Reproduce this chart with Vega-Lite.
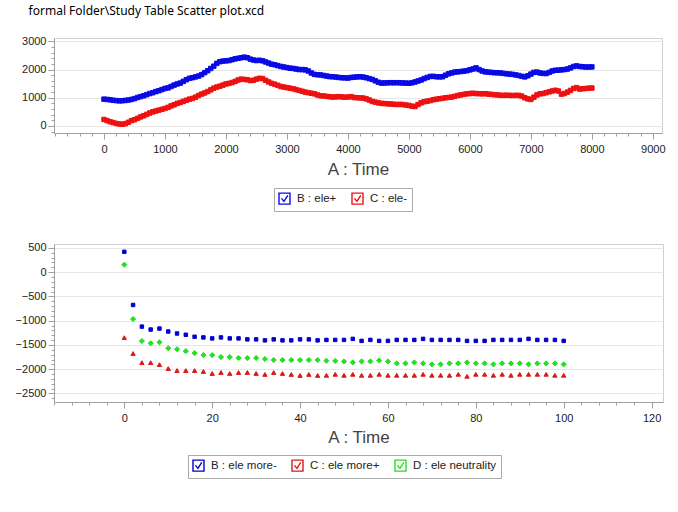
{
  "$schema": "https://vega.github.io/schema/vega-lite/v6.json",
  "background": "white",
  "padding": {"left": 14, "top": 4, "right": 8, "bottom": 4},
  "title": {
    "text": "formal Folder\\Study Table Scatter plot.xcd",
    "anchor": "start",
    "frame": "bounds",
    "dx": 14,
    "font": "Noto Sans",
    "fontSize": 12,
    "fontWeight": "normal",
    "color": "#000000",
    "offset": 17
  },
  "config": {
    "font": "Liberation Sans",
    "view": {"stroke": "#d0d0d0"},
    "axis": {
      "labelFont": "Liberation Sans",
      "labelFontSize": 11,
      "labelColor": "#222222",
      "domainColor": "#a0a0a0",
      "tickColor": "#a0a0a0",
      "titleFont": "Liberation Sans",
      "titleFontSize": 17,
      "titleFontWeight": "normal",
      "titleColor": "#444444",
      "labelOverlap": false,
      "format": "d"
    },
    "legend": {
      "symbolType": "M-1,-1H1V1H-1Z M-0.55,-0.05L-0.1,0.5L0.6,-0.6",
      "symbolSize": 121,
      "symbolStrokeWidth": 1.4,
      "labelFont": "Liberation Sans",
      "labelFontSize": 11.5,
      "labelColor": "#222222",
      "labelOffset": 6,
      "columnPadding": 12,
      "padding": 4,
      "strokeColor": "#a9a9a9",
      "fillColor": "white"
    }
  },
  "datasets": {
    "top": [
      {"A":0,"B":950,"C":230},{"A":50,"B":940,"C":190},{"A":100,"B":930,"C":150},{"A":150,"B":910,"C":120},
      {"A":200,"B":900,"C":90},{"A":250,"B":890,"C":70},{"A":300,"B":895,"C":60},{"A":350,"B":905,"C":80},
      {"A":400,"B":920,"C":130},{"A":450,"B":940,"C":190},{"A":500,"B":970,"C":220},{"A":550,"B":1010,"C":270},
      {"A":600,"B":1040,"C":320},{"A":650,"B":1070,"C":360},{"A":700,"B":1110,"C":410},{"A":750,"B":1150,"C":460},
      {"A":800,"B":1180,"C":500},{"A":850,"B":1220,"C":530},{"A":900,"B":1250,"C":560},{"A":950,"B":1290,"C":590},
      {"A":1000,"B":1330,"C":620},{"A":1050,"B":1350,"C":660},{"A":1100,"B":1400,"C":710},{"A":1150,"B":1450,"C":750},
      {"A":1200,"B":1490,"C":800},{"A":1250,"B":1520,"C":830},{"A":1300,"B":1580,"C":870},{"A":1350,"B":1640,"C":910},
      {"A":1400,"B":1690,"C":950},{"A":1450,"B":1710,"C":975},{"A":1500,"B":1740,"C":1020},{"A":1550,"B":1770,"C":1080},
      {"A":1600,"B":1820,"C":1130},{"A":1650,"B":1890,"C":1170},{"A":1700,"B":1960,"C":1220},{"A":1750,"B":2040,"C":1280},
      {"A":1800,"B":2120,"C":1340},{"A":1850,"B":2220,"C":1380},{"A":1900,"B":2280,"C":1410},{"A":1950,"B":2300,"C":1450},
      {"A":2000,"B":2310,"C":1490},{"A":2050,"B":2320,"C":1510},{"A":2100,"B":2350,"C":1540},{"A":2150,"B":2380,"C":1580},
      {"A":2200,"B":2400,"C":1630},{"A":2250,"B":2420,"C":1660},{"A":2300,"B":2440,"C":1650},{"A":2350,"B":2420,"C":1640},
      {"A":2400,"B":2370,"C":1610},{"A":2450,"B":2340,"C":1620},{"A":2500,"B":2320,"C":1660},{"A":2550,"B":2330,"C":1690},
      {"A":2600,"B":2310,"C":1680},{"A":2650,"B":2270,"C":1620},{"A":2700,"B":2230,"C":1560},{"A":2750,"B":2190,"C":1510},
      {"A":2800,"B":2170,"C":1480},{"A":2850,"B":2140,"C":1440},{"A":2900,"B":2110,"C":1400},{"A":2950,"B":2090,"C":1380},
      {"A":3000,"B":2070,"C":1360},{"A":3050,"B":2050,"C":1340},{"A":3100,"B":2040,"C":1320},{"A":3150,"B":2020,"C":1290},
      {"A":3200,"B":2000,"C":1260},{"A":3250,"B":2000,"C":1230},{"A":3300,"B":1990,"C":1200},{"A":3350,"B":1950,"C":1180},
      {"A":3400,"B":1880,"C":1160},{"A":3450,"B":1830,"C":1140},{"A":3500,"B":1815,"C":1100},{"A":3550,"B":1810,"C":1070},
      {"A":3600,"B":1790,"C":1065},{"A":3650,"B":1770,"C":1050},{"A":3700,"B":1750,"C":1035},{"A":3750,"B":1745,"C":1025},
      {"A":3800,"B":1735,"C":1030},{"A":3850,"B":1720,"C":1040},{"A":3900,"B":1710,"C":1030},{"A":3950,"B":1705,"C":1020},
      {"A":4000,"B":1700,"C":1025},{"A":4050,"B":1720,"C":1040},{"A":4100,"B":1730,"C":1010},{"A":4150,"B":1740,"C":1000},
      {"A":4200,"B":1745,"C":995},{"A":4250,"B":1735,"C":990},{"A":4300,"B":1710,"C":960},{"A":4350,"B":1680,"C":920},
      {"A":4400,"B":1650,"C":870},{"A":4450,"B":1600,"C":845},{"A":4500,"B":1550,"C":820},{"A":4550,"B":1520,"C":800},
      {"A":4600,"B":1525,"C":795},{"A":4650,"B":1530,"C":785},{"A":4700,"B":1535,"C":780},{"A":4750,"B":1530,"C":770},
      {"A":4800,"B":1535,"C":760},{"A":4850,"B":1530,"C":765},{"A":4900,"B":1525,"C":760},{"A":4950,"B":1520,"C":740},
      {"A":5000,"B":1515,"C":730},{"A":5050,"B":1530,"C":700},{"A":5100,"B":1560,"C":690},{"A":5150,"B":1595,"C":760},
      {"A":5200,"B":1630,"C":820},{"A":5250,"B":1680,"C":860},{"A":5300,"B":1720,"C":880},{"A":5350,"B":1755,"C":900},
      {"A":5400,"B":1760,"C":930},{"A":5450,"B":1745,"C":950},{"A":5500,"B":1740,"C":965},{"A":5550,"B":1745,"C":980},
      {"A":5600,"B":1800,"C":1000},{"A":5650,"B":1850,"C":1010},{"A":5700,"B":1880,"C":1025},{"A":5750,"B":1910,"C":1050},
      {"A":5800,"B":1920,"C":1080},{"A":5850,"B":1930,"C":1100},{"A":5900,"B":1945,"C":1120},{"A":5950,"B":1960,"C":1140},
      {"A":6000,"B":1990,"C":1150},{"A":6050,"B":2020,"C":1160},{"A":6100,"B":2060,"C":1150},{"A":6150,"B":2000,"C":1145},
      {"A":6200,"B":1950,"C":1140},{"A":6250,"B":1920,"C":1145},{"A":6300,"B":1910,"C":1130},{"A":6350,"B":1900,"C":1120},
      {"A":6400,"B":1890,"C":1110},{"A":6450,"B":1885,"C":1100},{"A":6500,"B":1880,"C":1090},{"A":6550,"B":1865,"C":1085},
      {"A":6600,"B":1850,"C":1090},{"A":6650,"B":1840,"C":1085},{"A":6700,"B":1830,"C":1080},{"A":6750,"B":1810,"C":1085},
      {"A":6800,"B":1790,"C":1085},{"A":6850,"B":1760,"C":1060},{"A":6900,"B":1740,"C":1000},{"A":6950,"B":1780,"C":960},
      {"A":7000,"B":1840,"C":940},{"A":7050,"B":1900,"C":1020},{"A":7100,"B":1910,"C":1100},{"A":7150,"B":1880,"C":1140},
      {"A":7200,"B":1865,"C":1150},{"A":7250,"B":1860,"C":1180},{"A":7300,"B":1900,"C":1210},{"A":7350,"B":1950,"C":1240},
      {"A":7400,"B":1975,"C":1265},{"A":7450,"B":1980,"C":1240},{"A":7500,"B":1990,"C":1130},{"A":7550,"B":2000,"C":1150},
      {"A":7600,"B":2020,"C":1200},{"A":7650,"B":2060,"C":1260},{"A":7700,"B":2110,"C":1330},{"A":7750,"B":2130,"C":1360},
      {"A":7800,"B":2110,"C":1310},{"A":7850,"B":2100,"C":1320},{"A":7900,"B":2090,"C":1330},{"A":7950,"B":2090,"C":1340},
      {"A":8000,"B":2095,"C":1345}
    ],
    "bottom": [
      {"A":0,"B":420,"C":-1350,"D":155},{"A":2,"B":-676,"C":-1676,"D":-966},{"A":4,"B":-1122,"C":-1865,"D":-1419},
      {"A":6,"B":-1182,"C":-1865,"D":-1466},{"A":8,"B":-1162,"C":-1905,"D":-1446},{"A":10,"B":-1223,"C":-1986,"D":-1568},
      {"A":12,"B":-1264,"C":-2027,"D":-1588},{"A":14,"B":-1290,"C":-2027,"D":-1628},{"A":16,"B":-1331,"C":-2027,"D":-1669},
      {"A":18,"B":-1345,"C":-2047,"D":-1709},{"A":20,"B":-1365,"C":-2088,"D":-1709},{"A":22,"B":-1345,"C":-2068,"D":-1750},
      {"A":24,"B":-1365,"C":-2088,"D":-1750},{"A":26,"B":-1365,"C":-2068,"D":-1770},{"A":28,"B":-1385,"C":-2068,"D":-1770},
      {"A":30,"B":-1385,"C":-2088,"D":-1770},{"A":32,"B":-1405,"C":-2108,"D":-1790},{"A":34,"B":-1385,"C":-2068,"D":-1811},
      {"A":36,"B":-1405,"C":-2088,"D":-1811},{"A":38,"B":-1405,"C":-2108,"D":-1811},{"A":40,"B":-1385,"C":-2128,"D":-1811},
      {"A":42,"B":-1385,"C":-2108,"D":-1811},{"A":44,"B":-1405,"C":-2128,"D":-1811},{"A":46,"B":-1396,"C":-2125,"D":-1825},
      {"A":48,"B":-1396,"C":-2105,"D":-1830},{"A":50,"B":-1396,"C":-2125,"D":-1839},{"A":52,"B":-1375,"C":-2105,"D":-1860},
      {"A":54,"B":-1416,"C":-2125,"D":-1839},{"A":56,"B":-1396,"C":-2125,"D":-1839},{"A":58,"B":-1416,"C":-2105,"D":-1819},
      {"A":60,"B":-1416,"C":-2125,"D":-1839},{"A":62,"B":-1396,"C":-2125,"D":-1880},{"A":64,"B":-1396,"C":-2125,"D":-1880},
      {"A":66,"B":-1396,"C":-2125,"D":-1860},{"A":68,"B":-1375,"C":-2105,"D":-1880},{"A":70,"B":-1396,"C":-2125,"D":-1900},
      {"A":72,"B":-1396,"C":-2125,"D":-1900},{"A":74,"B":-1396,"C":-2125,"D":-1880},{"A":76,"B":-1396,"C":-2105,"D":-1880},
      {"A":78,"B":-1416,"C":-2146,"D":-1860},{"A":80,"B":-1416,"C":-2105,"D":-1880},{"A":82,"B":-1416,"C":-2105,"D":-1880},
      {"A":84,"B":-1396,"C":-2125,"D":-1900},{"A":86,"B":-1396,"C":-2105,"D":-1880},{"A":88,"B":-1396,"C":-2125,"D":-1880},
      {"A":90,"B":-1396,"C":-2105,"D":-1880},{"A":92,"B":-1375,"C":-2105,"D":-1900},{"A":94,"B":-1396,"C":-2105,"D":-1880},
      {"A":96,"B":-1396,"C":-2105,"D":-1880},{"A":98,"B":-1396,"C":-2125,"D":-1880},{"A":100,"B":-1416,"C":-2125,"D":-1900}
    ]
  },
  "spacing": 29,
  "resolve": {
    "scale": {"x": "independent", "y": "independent", "fill": "independent", "stroke": "independent", "shape": "independent", "size": "independent"},
    "legend": {"fill": "independent", "stroke": "independent", "shape": "independent", "size": "independent"}
  },
  "vconcat": [
    {
      "width": 608,
      "height": 95,
      "data": {"name": "top"},
      "transform": [{"fold": ["B", "C"], "as": ["series", "value"]}],
      "mark": {"type": "point", "filled": true, "shape": "square", "size": 20, "strokeWidth": 1, "opacity": 1},
      "encoding": {
        "x": {
          "field": "A",
          "type": "quantitative",
          "title": "A : Time",
          "scale": {"domain": [-820, 9150], "nice": false, "zero": false},
          "axis": {
            "values": [-800,-600,-400,-200,0,200,400,600,800,1000,1200,1400,1600,1800,2000,2200,2400,2600,2800,3000,3200,3400,3600,3800,4000,4200,4400,4600,4800,5000,5200,5400,5600,5800,6000,6200,6400,6600,6800,7000,7200,7400,7600,7800,8000,8200,8400,8600,8800,9000],
            "labelExpr": "datum.value % 1000 === 0 ? datum.label : ''",
            "tickSize": {"condition": {"test": "datum.value % 1000 === 0", "value": 6}, "value": 3},
            "grid": false,
            "labelPadding": 4,
            "titlePadding": 7
          }
        },
        "y": {
          "field": "value",
          "type": "quantitative",
          "title": null,
          "scale": {"domain": [-250, 3120], "nice": false, "zero": false},
          "axis": {
            "values": [-200,0,200,400,600,800,1000,1200,1400,1600,1800,2000,2200,2400,2600,2800,3000],
            "labelExpr": "datum.value % 1000 === 0 ? datum.label : ''",
            "tickSize": {"condition": {"test": "datum.value % 1000 === 0", "value": 6}, "value": 3},
            "gridColor": {"condition": {"test": "datum.value % 1000 === 0", "value": "#e6e6e6"}, "value": "transparent"},
            "grid": true
          }
        },
        "fill": {
          "field": "series",
          "type": "nominal",
          "scale": {"range": ["#0a0ae6", "#ee1111"]},
          "legend": null
        },
        "stroke": {
          "field": "series",
          "type": "nominal",
          "scale": {"domain": ["B", "C"], "range": ["#0a0ae6", "#ee1111"]},
          "legend": {
            "orient": "none",
            "direction": "horizontal",
            "title": null,
            "legendX": 220,
            "legendY": 150,
            "symbolFillColor": "transparent",
            "labelExpr": "datum.label === 'B' ? 'B : ele+' : 'C : ele-'"
          }
        }
      }
    },
    {
      "width": 609,
      "height": 158,
      "data": {"name": "bottom"},
      "transform": [{"fold": ["B", "C", "D"], "as": ["series", "value"]}],
      "mark": {"type": "point", "filled": true, "strokeWidth": 1, "opacity": 1},
      "encoding": {
        "x": {
          "field": "A",
          "type": "quantitative",
          "title": "A : Time",
          "scale": {"domain": [-16, 122.6], "nice": false, "zero": false},
          "axis": {
            "values": [-16,-12,-8,-4,0,4,8,12,16,20,24,28,32,36,40,44,48,52,56,60,64,68,72,76,80,84,88,92,96,100,104,108,112,116,120],
            "labelExpr": "datum.value % 20 === 0 ? datum.label : ''",
            "tickSize": {"condition": {"test": "datum.value % 20 === 0", "value": 6}, "value": 3},
            "grid": false,
            "labelPadding": 4,
            "titlePadding": 6
          }
        },
        "y": {
          "field": "value",
          "type": "quantitative",
          "title": null,
          "scale": {"domain": [-2676, 581], "nice": false, "zero": false},
          "axis": {
            "values": [-2600,-2500,-2400,-2300,-2200,-2100,-2000,-1900,-1800,-1700,-1600,-1500,-1400,-1300,-1200,-1100,-1000,-900,-800,-700,-600,-500,-400,-300,-200,-100,0,100,200,300,400,500],
            "labelExpr": "datum.value % 500 === 0 ? datum.label : ''",
            "tickSize": {"condition": {"test": "datum.value % 500 === 0", "value": 6}, "value": 3},
            "gridColor": {"condition": {"test": "datum.value % 500 === 0", "value": "#e6e6e6"}, "value": "transparent"},
            "grid": true
          }
        },
        "shape": {
          "field": "series",
          "type": "nominal",
          "scale": {"range": ["square", "triangle-up", "diamond"]},
          "legend": null
        },
        "size": {
          "field": "series",
          "type": "nominal",
          "scale": {"range": [12, 26, 30]},
          "legend": null
        },
        "fill": {
          "field": "series",
          "type": "nominal",
          "scale": {"range": ["#0000cc", "#d91a1a", "#22e022"]},
          "legend": null
        },
        "stroke": {
          "field": "series",
          "type": "nominal",
          "scale": {"domain": ["B", "C", "D"], "range": ["#0000cc", "#d91a1a", "#22e022"]},
          "legend": {
            "orient": "none",
            "direction": "horizontal",
            "title": null,
            "legendX": 134,
            "legendY": 211,
            "symbolFillColor": "transparent",
            "labelExpr": "datum.label === 'B' ? 'B : ele more-' : datum.label === 'C' ? 'C : ele more+' : 'D : ele neutrality'"
          }
        }
      }
    }
  ]
}
